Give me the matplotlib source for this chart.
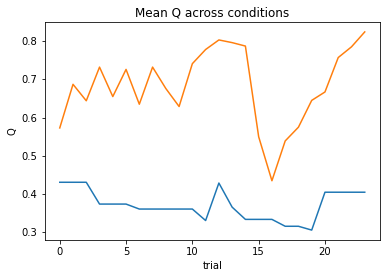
import matplotlib
matplotlib.use("Agg")
import matplotlib.pyplot as plt

trial = list(range(24))
q_low = [0.431, 0.431, 0.431, 0.374, 0.374, 0.374, 0.361, 0.361, 0.361, 0.361,
         0.361, 0.331, 0.429, 0.366, 0.334, 0.334, 0.334, 0.316, 0.316, 0.306,
         0.405, 0.405, 0.405, 0.405]
q_high = [0.573, 0.687, 0.644, 0.732, 0.655, 0.726, 0.635, 0.732, 0.676, 0.629,
          0.741, 0.778, 0.803, 0.796, 0.787, 0.550, 0.435, 0.539, 0.575, 0.645,
          0.667, 0.757, 0.785, 0.824]

fig = plt.figure(figsize=(386 / 72, 278 / 72), dpi=72)
ax = fig.add_axes([44.5 / 386, 1 - 240 / 278, (380 - 44.5) / 386, (240 - 22) / 278])
ax.plot(trial, q_low)
ax.plot(trial, q_high)
ax.set_title("Mean Q across conditions")
ax.set_xlabel("trial")
ax.set_ylabel("Q")
fig.savefig("out.png", dpi=72)
